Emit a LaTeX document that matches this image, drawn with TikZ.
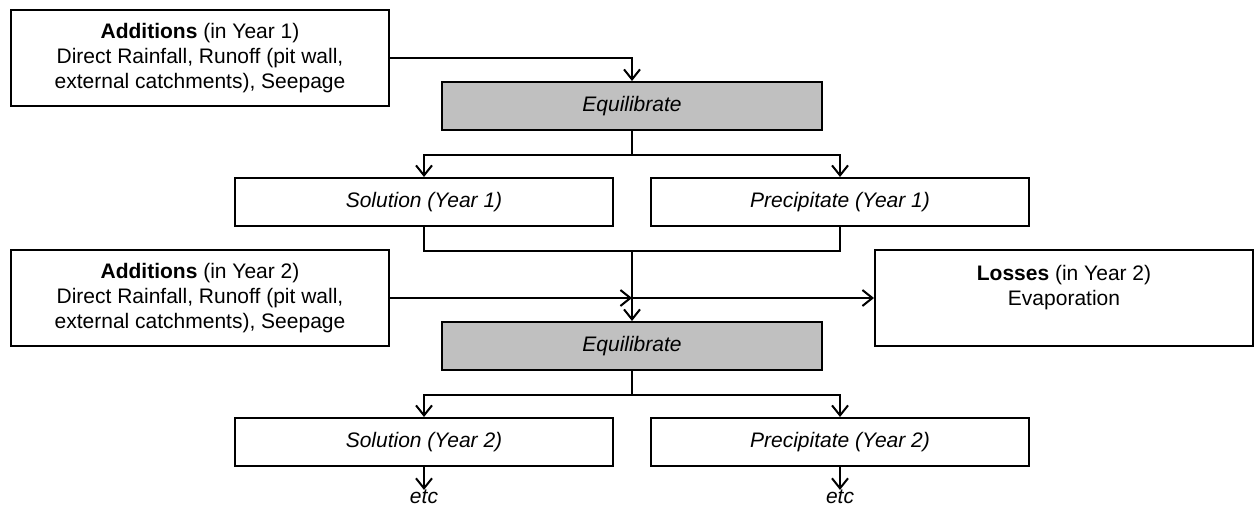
\documentclass[tikz,border=0pt]{standalone}
\usepackage{fontspec}
\setmainfont{Liberation Sans}
\usetikzlibrary{arrows.meta}
\definecolor{boxgray}{RGB}{192,192,192}
\tikzset{
  box/.style={draw=black, line width=2pt, inner sep=0pt, align=center,
    font=\fontsize{21}{25}\selectfont},
  wide/.style={box, minimum width=378pt, minimum height=96pt},
  thin/.style={box, minimum width=378pt, minimum height=48pt, font=\fontsize{21}{25}\selectfont\itshape},
  eqbox/.style={thin, fill=boxgray, minimum width=380pt, minimum height=48pt},
  conn/.style={line width=2pt},
  arr/.style={conn, -{Straight Barb[length=10pt,width=16pt,line width=2pt]}},
  lbl/.style={inner sep=0pt, font=\fontsize{21}{25}\selectfont\itshape}
}
\begin{document}
\begin{tikzpicture}[x=1pt,y=-1pt]
\useasboundingbox (0,0) rectangle (1258,508);
\node[wide] (add1) at (200,58) {\textbf{Additions} (in Year 1)\\Direct Rainfall, Runoff (pit wall,\\external catchments), Seepage};
\node[eqbox] (eq1) at (632,106) {Equilibrate};
\node[thin] (sol1) at (424,202) {Solution (Year 1)};
\node[thin] (pre1) at (840,202) {Precipitate (Year 1)};
\node[wide] (add2) at (200,298) {\textbf{Additions} (in Year 2)\\Direct Rainfall, Runoff (pit wall,\\external catchments), Seepage};
\node[wide] (loss) at (1064,298) {\textbf{Losses} (in Year 2)\\Evaporation\\~};
\node[eqbox] (eq2) at (632,346) {Equilibrate};
\node[thin] (sol2) at (424,442) {Solution (Year 2)};
\node[thin] (pre2) at (840,442) {Precipitate (Year 2)};
\node[lbl] (etc1) at (424,497) {etc};
\node[lbl] (etc2) at (840,497) {etc};
% year 1
\draw[arr] (add1.east) -| (eq1.north);
\draw[conn] (eq1.south) -- ++(0,24) coordinate (s1);
\draw[arr] (s1) -| (sol1.north);
\draw[arr] (s1) -| (pre1.north);
% merge
\draw[conn] (sol1.south) -- ++(0,24) coordinate (m1) -| (pre1.south);
\coordinate (j) at (eq2.north |- m1);
\draw[arr] (j) -- (eq2.north);
\draw[arr] (add2.east) -- (add2.east -| j);
\draw[arr] (add2.east -| j) -- (loss.west);
% year 2
\draw[conn] (eq2.south) -- ++(0,24) coordinate (s2);
\draw[arr] (s2) -| (sol2.north);
\draw[arr] (s2) -| (pre2.north);
\draw[arr] (sol2.south) -- (etc1.north);
\draw[arr] (pre2.south) -- (etc2.north);
\end{tikzpicture}
\end{document}
